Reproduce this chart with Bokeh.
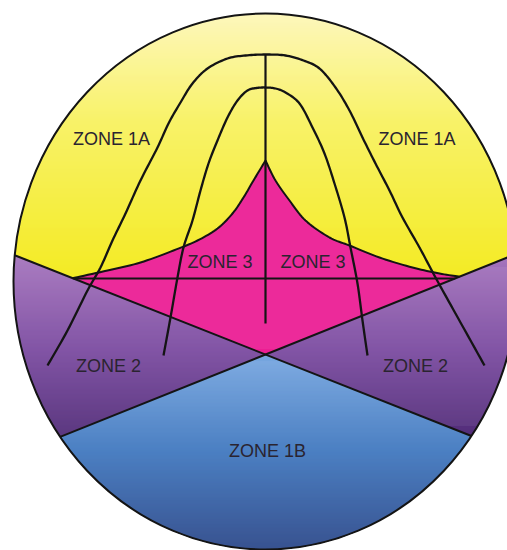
import numpy as np
from bokeh.plotting import figure
from bokeh.models import Range1d, ColumnDataSource
from bokeh.embed import file_html
from bokeh.resources import INLINE
from bokeh.core.properties import value

# ---------------- diagram geometry (reference pixel units, y downward) ----------------
ellipse_center = [265.0, 281.0]
ellipse_radii = [252.0, 268.0]
cross_point = [265.0, 354.0]
arm1_point = [40.0, 265.0]    # upper-left arm of the X
arm2_point = [492.0, 263.0]   # upper-right arm of the X

# zone 3 cusp boundary (left / right halves)
cusp_left_x = [265, 253, 243, 232, 217, 197, 173, 140, 107, 72]
cusp_left_y = [160, 180, 197, 213, 228, 240, 250, 262, 270, 277.7]
cusp_right_x = [265, 275, 289, 305, 329, 349, 379, 412, 439, 459]
cusp_right_y = [160, 180, 200, 220, 237, 245, 257, 267, 273, 276.2]

# arches
outer_arch_x = [47, 67, 87, 100, 112, 125, 140, 157, 168, 180, 192, 207, 227, 245, 265,
                285, 303, 319, 335, 349, 362, 375, 389, 402, 419, 435, 455, 484]
outer_arch_y = [365, 330, 290, 267, 240, 213, 180, 147, 123, 102, 83, 68, 58, 55, 54,
                55, 60, 68, 87, 110, 137, 163, 190, 217, 247, 277, 313, 365]
inner_arch_x = [163, 170, 177, 183, 192, 200, 208, 217, 227, 237, 247, 256, 265,
                275, 285, 299, 312, 324, 334, 344, 350, 357, 362, 367]
inner_arch_y = [355, 317, 277, 247, 220, 190, 163, 140, 117, 100, 90, 87.5, 87,
                88, 92, 103, 127, 153, 183, 217, 247, 283, 320, 355]

axis_line_x = [265, 265]
axis_line_y = [54, 323]
base_line_y = 278.0

# labels
label_text = ["ZONE 1A", "ZONE 1A", "ZONE 3", "ZONE 3", "ZONE 2", "ZONE 2", "ZONE 1B"]
label_x = [111, 416.5, 219.5, 312.5, 108, 415, 267]
label_y = [138.5, 138.5, 261.5, 261.5, 365, 365, 450]

# colour stops (y position, rgb)
yellow_stop_y = [13, 120, 275]
yellow_stop_rgb = [(253, 246, 178), (247, 240, 84), (242, 232, 6)]
purple_stop_y = [255, 350, 440]
purple_stop_rgb = [(158, 106, 184), (112, 60, 152), (66, 26, 108)]
blue_stop_y = [354, 450, 549]
blue_stop_rgb = [(110, 160, 222), (50, 110, 186), (28, 58, 128)]
magenta = "#ea0c8b"
ink = "#141414"
text_color = "#2a2430"


def grad(stop_y, stop_rgb, y):
    ch = [int(round(np.interp(y, stop_y, [c[i] for c in stop_rgb]))) for i in range(3)]
    return "#%02x%02x%02x" % tuple(ch)


def smooth(xs, ys, n=10):
    """Catmull-Rom curve through the given points (for drawing only)."""
    P = np.column_stack([xs, ys]).astype(float)
    P = np.vstack([P[0], P, P[-1]])
    out = []
    for i in range(1, len(P) - 2):
        p0, p1, p2, p3 = P[i - 1], P[i], P[i + 1], P[i + 2]
        for t in np.linspace(0, 1, n, endpoint=False):
            t2, t3 = t * t, t * t * t
            out.append(0.5 * ((2 * p1) + (-p0 + p2) * t + (2 * p0 - 5 * p1 + 4 * p2 - p3) * t2
                              + (-p0 + 3 * p1 - 3 * p2 + p3) * t3))
    out.append(P[-2])
    out = np.array(out)
    return out[:, 0].tolist(), out[:, 1].tolist()


cx, cy = ellipse_center
ax_, ay_ = ellipse_radii
Cx, Cy = cross_point
m1 = (Cy - arm1_point[1]) / (Cx - arm1_point[0])
m2 = (Cy - arm2_point[1]) / (Cx - arm2_point[0])

# smoothed cusp halves (y increasing)
cl_x, cl_y = smooth(cusp_left_x, cusp_left_y)
cr_x, cr_y = smooth(cusp_right_x, cusp_right_y)

L, R, T, B, COL = [], [], [], [], []


def add(a, b, y0, col, xl, xr):
    a = max(a, xl)
    b = min(b, xr)
    if b - a > 0.01:
        L.append(a)
        R.append(b)
        T.append(y0)
        B.append(y0 + 1.35)
        COL.append(col)


for y0 in np.arange(12.0, 550.0, 1.0):
    yc = y0 + 0.5
    d = (yc - cy) / ay_
    if abs(d) >= 1:
        continue
    half = ax_ * np.sqrt(1 - d * d)
    xl, xr = cx - half, cx + half
    x1 = Cx + (yc - Cy) / m1
    x2 = Cx + (yc - Cy) / m2
    pc = grad(purple_stop_y, purple_stop_rgb, yc)
    if yc < Cy:
        ycol = grad(yellow_stop_y, yellow_stop_rgb, yc)
        add(xl, x1, y0, pc, xl, xr)
        add(x2, xr, y0, pc, xl, xr)
        ml = np.interp(yc, cl_y, cl_x, left=1e9, right=-1e9)
        mr = np.interp(yc, cr_y, cr_x, left=-1e9, right=1e9)
        a, b = max(x1, ml), min(x2, mr)
        if b > a:
            add(x1, a, y0, ycol, xl, xr)
            add(a, b, y0, magenta, xl, xr)
            add(b, x2, y0, ycol, xl, xr)
        else:
            add(x1, x2, y0, ycol, xl, xr)
    else:
        bc = grad(blue_stop_y, blue_stop_rgb, yc)
        add(xl, x2, y0, pc, xl, xr)
        add(x2, x1, y0, bc, xl, xr)
        add(x1, xr, y0, pc, xl, xr)

p = figure(width=507, height=550, x_range=Range1d(0, 507), y_range=Range1d(550, 0),
           output_backend="svg", toolbar_location=None, x_axis_type=None, y_axis_type=None,
           min_border=0, outline_line_color=None)
p.grid.visible = False
p.background_fill_color = "white"
p.border_fill_color = "white"

src = ColumnDataSource(dict(left=L, right=R, top=T, bottom=B, color=COL))
p.quad(left="left", right="right", top="top", bottom="bottom", fill_color="color",
       line_color=None, source=src)


def line_ellipse_ends(m):
    # intersections of y = Cy + m (x - Cx) with the ellipse
    k = Cy - m * Cx - cy
    A = 1 / ax_ ** 2 + m * m / ay_ ** 2
    Bq = -2 * cx / ax_ ** 2 + 2 * m * k / ay_ ** 2
    Cq = cx * cx / ax_ ** 2 + k * k / ay_ ** 2 - 1
    disc = np.sqrt(Bq * Bq - 4 * A * Cq)
    xs = [(-Bq - disc) / (2 * A), (-Bq + disc) / (2 * A)]
    return xs, [Cy + m * (x - Cx) for x in xs]


for m in (m1, m2):
    xs, ys = line_ellipse_ends(m)
    p.line(xs, ys, line_color=ink, line_width=2)

# zone 3 upper boundary
p.line(cl_x[::-1] + cr_x[1:], cl_y[::-1] + cr_y[1:], line_color=ink, line_width=2,
       line_join="round")
# horizontal base line of zone 3
bx1 = Cx + (base_line_y - Cy) / m1
bx2 = Cx + (base_line_y - Cy) / m2
p.line([bx1, bx2], [base_line_y, base_line_y], line_color=ink, line_width=2)
# vertical line
p.line(axis_line_x, axis_line_y, line_color=ink, line_width=2.2)
# arches
ox, oy = smooth(outer_arch_x, outer_arch_y)
ix, iy = smooth(inner_arch_x, inner_arch_y)
p.line(ox, oy, line_color=ink, line_width=2.3, line_join="round")
p.line(ix, iy, line_color=ink, line_width=2.3, line_join="round")
# outline
p.ellipse(x=[cx], y=[cy], width=[2 * ax_], height=[2 * ay_], fill_color=None,
          line_color=ink, line_width=2)

p.text(x=label_x, y=label_y, text=label_text, text_font=value("Liberation Sans"),
       text_font_size="18px", text_align="center", text_baseline="middle",
       text_color=text_color)

open("out.html", "w").write(file_html(p, INLINE))
